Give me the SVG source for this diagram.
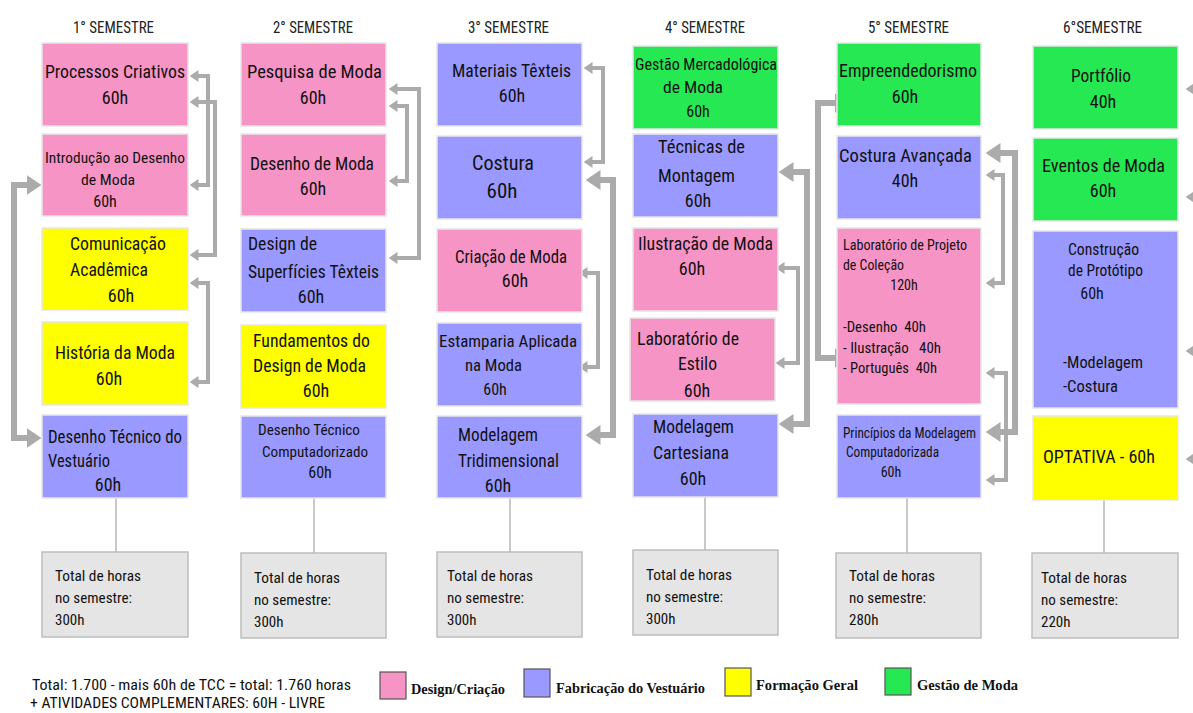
<svg xmlns="http://www.w3.org/2000/svg" width="1193" height="713" viewBox="0 0 1193 713">
<style>
.box{stroke:#e6e6e6;stroke-width:1.5}
.pink{fill:#f794c6}.blue{fill:#9999ff}.yel{fill:#ffff00}.grn{fill:#26e853}
.tot{fill:#e5e5e5;stroke:#bdbdbd;stroke-width:1.5}
text{font-family:"Liberation Sans Narrow","Roboto Condensed","DejaVu Sans Condensed","Liberation Sans",sans-serif;fill:#111}
.l{font-size:18px}.m{font-size:16px}.s{font-size:15px}.xs{font-size:14px}.xl{font-size:21px}
.hd{font-size:16px;fill:#222}
.c{text-anchor:middle}
.lg{font-family:"Liberation Serif","Times New Roman",serif;font-weight:bold;font-size:14px}
.conn{fill:none;stroke:#ababab;stroke-width:4}
.thick{stroke-width:6}
.vl{stroke:#c9c9c9;stroke-width:2}
.sw{stroke:#555;stroke-width:1.2}
</style>
<defs>
<marker id="a" markerUnits="userSpaceOnUse" viewBox="0 0 9 12" markerWidth="9" markerHeight="12" refX="0.5" refY="6" orient="auto-start-reverse"><path d="M0,0 L9,6 L0,12 z" fill="#ababab"/></marker>
<marker id="A" markerUnits="userSpaceOnUse" viewBox="0 0 15 20" markerWidth="15" markerHeight="20" refX="0.5" refY="10" orient="auto-start-reverse"><path d="M0,0 L15,10 L0,20 z" fill="#ababab"/></marker>
</defs>
<rect width="1193" height="713" fill="#ffffff"/>

<g id="headers">
<text class="hd" x="73" y="33" textLength="81" lengthAdjust="spacingAndGlyphs">1° SEMESTRE</text>
<text class="hd" x="273" y="33" textLength="80" lengthAdjust="spacingAndGlyphs">2° SEMESTRE</text>
<text class="hd" x="468" y="33" textLength="81" lengthAdjust="spacingAndGlyphs">3° SEMESTRE</text>
<text class="hd" x="665" y="33" textLength="80" lengthAdjust="spacingAndGlyphs">4° SEMESTRE</text>
<text class="hd" x="868" y="33" textLength="81" lengthAdjust="spacingAndGlyphs">5° SEMESTRE</text>
<text class="hd" x="1063" y="33" textLength="79" lengthAdjust="spacingAndGlyphs">6°SEMESTRE</text>
</g>

<g id="connectors">
<path class="conn" d="M198,76 H208 V185 H198" marker-start="url(#a)" marker-end="url(#a)"/>
<path class="conn" d="M198,102 H215 V255 H198" marker-start="url(#a)" marker-end="url(#a)"/>
<path class="conn" d="M198,283 H208 V382 H198" marker-start="url(#a)" marker-end="url(#a)"/>
<path class="conn thick" d="M27,185 H14 V438 H27" marker-start="url(#A)" marker-end="url(#A)"/>
<path class="conn" d="M397,89 H419 V258 H397" marker-start="url(#a)" marker-end="url(#a)"/>
<path class="conn" d="M397,106 H407 V181 H397" marker-start="url(#a)" marker-end="url(#a)"/>
<path class="conn" d="M592,68 H603 V162 H592" marker-start="url(#a)" marker-end="url(#a)"/>
<path class="conn thick" d="M600,180 H613 V435 H600" marker-start="url(#A)" marker-end="url(#A)"/>
<path class="conn" d="M587,273 H598 V367 H587" marker-start="url(#a)" marker-end="url(#a)"/>
<path class="conn thick" d="M793,172 H807 V424 H793" marker-start="url(#A)" marker-end="url(#A)"/>
<path class="conn" d="M784,268 H798 V363 H784" marker-start="url(#a)" marker-end="url(#a)"/>
<path class="conn thick" d="M835,103 H818 V358 H835" marker-start="url(#A)" marker-end="url(#A)"/>
<path class="conn thick" d="M1000,153 H1015 V432 H1000" marker-start="url(#A)" marker-end="url(#A)"/>
<path class="conn" d="M994,175 H1003 V283 H994" marker-start="url(#a)" marker-end="url(#a)"/>
<path class="conn" d="M994,373 H1006 V480 H994" marker-start="url(#a)" marker-end="url(#a)"/>
<path class="conn" d="M1205,89 H1194" marker-end="url(#a)"/>
<path class="conn" d="M1205,197 H1194" marker-end="url(#a)"/>
<path class="conn" d="M1205,351 H1194" marker-end="url(#a)"/>
<path class="conn" d="M1205,459 H1194" marker-end="url(#a)"/>
<line class="vl" x1="116" y1="498" x2="116" y2="552"/>
<line class="vl" x1="314" y1="498" x2="314" y2="553"/>
<line class="vl" x1="510" y1="498" x2="510" y2="552"/>
<line class="vl" x1="705" y1="497" x2="705" y2="550"/>
<line class="vl" x1="907" y1="498" x2="907" y2="553"/>
<line class="vl" x1="1104" y1="500" x2="1104" y2="553"/>
</g>

<!-- Semester 1 -->
<g id="processos-criativos">
<rect class="box pink" x="42" y="43" width="146" height="83"/>
<text class="l" x="45" y="78" textLength="140" lengthAdjust="spacingAndGlyphs">Processos Criativos</text>
<text class="l c" x="115" y="104">60h</text>
</g>
<g id="introducao-desenho">
<rect class="box pink" x="42" y="134" width="146" height="82"/>
<text class="s" x="45" y="163" textLength="140" lengthAdjust="spacingAndGlyphs">Introdução ao Desenho</text>
<text class="s" x="81" y="185" textLength="54" lengthAdjust="spacingAndGlyphs">de Moda</text>
<text class="m c" x="105" y="207">60h</text>
</g>
<g id="comunicacao-academica">
<rect class="box yel" x="42" y="228" width="146" height="82"/>
<text class="l" x="70" y="250" textLength="96" lengthAdjust="spacingAndGlyphs">Comunicação</text>
<text class="l" x="70" y="276" textLength="78" lengthAdjust="spacingAndGlyphs">Acadêmica</text>
<text class="l c" x="121" y="302">60h</text>
</g>
<g id="historia-moda">
<rect class="box yel" x="42" y="322" width="146" height="83"/>
<text class="l" x="55" y="359" textLength="120" lengthAdjust="spacingAndGlyphs">História da Moda</text>
<text class="l c" x="109" y="385">60h</text>
</g>
<g id="desenho-tecnico-vestuario">
<rect class="box blue" x="42" y="415" width="146" height="83"/>
<text class="l" x="48" y="443" textLength="134" lengthAdjust="spacingAndGlyphs">Desenho Técnico do</text>
<text class="l" x="48" y="467" textLength="62" lengthAdjust="spacingAndGlyphs">Vestuário</text>
<text class="l c" x="108" y="491">60h</text>
</g>

<!-- Semester 2 -->
<g id="pesquisa-moda">
<rect class="box pink" x="241" y="43" width="145" height="83"/>
<text class="l" x="247" y="78" textLength="135" lengthAdjust="spacingAndGlyphs">Pesquisa de Moda</text>
<text class="l c" x="313" y="104">60h</text>
</g>
<g id="desenho-moda">
<rect class="box pink" x="241" y="134" width="145" height="82"/>
<text class="l" x="250" y="170" textLength="124" lengthAdjust="spacingAndGlyphs">Desenho de Moda</text>
<text class="l c" x="313" y="195">60h</text>
</g>
<g id="design-superficies">
<rect class="box blue" x="241" y="229" width="145" height="83"/>
<text class="l" x="248" y="250" textLength="69" lengthAdjust="spacingAndGlyphs">Design de</text>
<text class="l" x="248" y="278" textLength="131" lengthAdjust="spacingAndGlyphs">Superfícies Têxteis</text>
<text class="l c" x="311" y="303">60h</text>
</g>
<g id="fundamentos-design">
<rect class="box yel" x="241" y="325" width="145" height="83"/>
<text class="l" x="253" y="347" textLength="117" lengthAdjust="spacingAndGlyphs">Fundamentos do</text>
<text class="l" x="253" y="372" textLength="113" lengthAdjust="spacingAndGlyphs">Design de Moda</text>
<text class="l c" x="316" y="397">60h</text>
</g>
<g id="desenho-tecnico-comp">
<rect class="box blue" x="241" y="416" width="145" height="82"/>
<text class="s" x="258" y="435" textLength="102" lengthAdjust="spacingAndGlyphs">Desenho Técnico</text>
<text class="s" x="262" y="457" textLength="106" lengthAdjust="spacingAndGlyphs">Computadorizado</text>
<text class="m c" x="320" y="478">60h</text>
</g>

<!-- Semester 3 -->
<g id="materiais-texteis">
<rect class="box blue" x="437" y="43" width="145" height="83"/>
<text class="l" x="452" y="77" textLength="119" lengthAdjust="spacingAndGlyphs">Materiais Têxteis</text>
<text class="l c" x="512" y="102">60h</text>
</g>
<g id="costura">
<rect class="box blue" x="437" y="136" width="145" height="83"/>
<text class="xl" x="472" y="170" textLength="62" lengthAdjust="spacingAndGlyphs">Costura</text>
<text class="xl c" x="502" y="198">60h</text>
</g>
<g id="criacao-moda">
<rect class="box pink" x="437" y="229" width="145" height="83"/>
<text class="l" x="455" y="263" textLength="112" lengthAdjust="spacingAndGlyphs">Criação de Moda</text>
<text class="l c" x="515" y="287">60h</text>
</g>
<g id="estamparia">
<rect class="box blue" x="437" y="323" width="145" height="83"/>
<text class="m" x="439" y="347" textLength="138" lengthAdjust="spacingAndGlyphs">Estamparia Aplicada</text>
<text class="m" x="465" y="371" textLength="57" lengthAdjust="spacingAndGlyphs">na Moda</text>
<text class="m c" x="495" y="395">60h</text>
</g>
<g id="modelagem-tridimensional">
<rect class="box blue" x="437" y="416" width="145" height="82"/>
<text class="l" x="458" y="441" textLength="80" lengthAdjust="spacingAndGlyphs">Modelagem</text>
<text class="l" x="458" y="467" textLength="101" lengthAdjust="spacingAndGlyphs">Tridimensional</text>
<text class="l c" x="498" y="492">60h</text>
</g>

<!-- Semester 4 -->
<g id="gestao-mercadologica">
<rect class="box grn" x="633" y="46" width="145" height="83"/>
<text class="m" x="635" y="70" textLength="142" lengthAdjust="spacingAndGlyphs">Gestão Mercadológica</text>
<text class="m" x="663" y="93" textLength="60" lengthAdjust="spacingAndGlyphs">de Moda</text>
<text class="m c" x="698" y="117">60h</text>
</g>
<g id="tecnicas-montagem">
<rect class="box blue" x="633" y="134" width="145" height="83"/>
<text class="l" x="658" y="153" textLength="87" lengthAdjust="spacingAndGlyphs">Técnicas de</text>
<text class="l" x="658" y="182" textLength="77" lengthAdjust="spacingAndGlyphs">Montagem</text>
<text class="l c" x="698" y="207">60h</text>
</g>
<g id="ilustracao-moda">
<rect class="box pink" x="633" y="228" width="145" height="83"/>
<text class="l" x="638" y="250" textLength="135" lengthAdjust="spacingAndGlyphs">Ilustração de Moda</text>
<text class="l c" x="692" y="275">60h</text>
</g>
<g id="laboratorio-estilo">
<rect class="box pink" x="630" y="318" width="145" height="83"/>
<text class="l" x="637" y="345" textLength="102" lengthAdjust="spacingAndGlyphs">Laboratório de</text>
<text class="l" x="678" y="370" textLength="39" lengthAdjust="spacingAndGlyphs">Estilo</text>
<text class="l c" x="697" y="397">60h</text>
</g>
<g id="modelagem-cartesiana">
<rect class="box blue" x="633" y="414" width="145" height="83"/>
<text class="l" x="653" y="433" textLength="81" lengthAdjust="spacingAndGlyphs">Modelagem</text>
<text class="l" x="653" y="459" textLength="76" lengthAdjust="spacingAndGlyphs">Cartesiana</text>
<text class="l c" x="693" y="485">60h</text>
</g>

<!-- Semester 5 -->
<g id="empreendedorismo">
<rect class="box grn" x="837" y="43" width="144" height="83"/>
<text class="l" x="839" y="77" textLength="138" lengthAdjust="spacingAndGlyphs">Empreendedorismo</text>
<text class="l c" x="905" y="103">60h</text>
</g>
<g id="costura-avancada">
<rect class="box blue" x="837" y="136" width="144" height="83"/>
<text class="l" x="839" y="162" textLength="133" lengthAdjust="spacingAndGlyphs">Costura Avançada</text>
<text class="l c" x="905" y="187">40h</text>
</g>
<g id="laboratorio-projeto">
<rect class="box pink" x="837" y="228" width="144" height="176"/>
<text class="xs" x="843" y="250" textLength="124" lengthAdjust="spacingAndGlyphs">Laboratório de Projeto</text>
<text class="xs" x="843" y="270" textLength="61" lengthAdjust="spacingAndGlyphs">de Coleção</text>
<text class="xs c" x="904" y="290">120h</text>
<text class="xs" x="843" y="332" textLength="83" lengthAdjust="spacingAndGlyphs" xml:space="preserve">-Desenho  40h</text>
<text class="xs" x="843" y="353" textLength="98" lengthAdjust="spacingAndGlyphs" xml:space="preserve">- Ilustração   40h</text>
<text class="xs" x="843" y="373" textLength="94" lengthAdjust="spacingAndGlyphs" xml:space="preserve">- Português  40h</text>
</g>
<g id="principios-modelagem">
<rect class="box blue" x="837" y="415" width="144" height="83"/>
<text class="xs" x="843" y="438" textLength="133" lengthAdjust="spacingAndGlyphs">Princípios da Modelagem</text>
<text class="xs" x="846" y="457" textLength="93" lengthAdjust="spacingAndGlyphs">Computadorizada</text>
<text class="xs c" x="891" y="477">60h</text>
</g>

<!-- Semester 6 -->
<g id="portfolio">
<rect class="box grn" x="1033" y="46" width="145" height="83"/>
<text class="l" x="1071" y="82" textLength="60" lengthAdjust="spacingAndGlyphs">Portfólio</text>
<text class="l c" x="1103" y="108">40h</text>
</g>
<g id="eventos-moda">
<rect class="box grn" x="1033" y="138" width="145" height="83"/>
<text class="l" x="1042" y="172" textLength="123" lengthAdjust="spacingAndGlyphs">Eventos de Moda</text>
<text class="l c" x="1103" y="197">60h</text>
</g>
<g id="construcao-prototipo">
<rect class="box blue" x="1033" y="231" width="145" height="177"/>
<text class="m" x="1068" y="255" textLength="71" lengthAdjust="spacingAndGlyphs">Construção</text>
<text class="m" x="1068" y="276" textLength="75" lengthAdjust="spacingAndGlyphs">de Protótipo</text>
<text class="m c" x="1092" y="299">60h</text>
<text class="m" x="1063" y="368" textLength="80" lengthAdjust="spacingAndGlyphs">-Modelagem</text>
<text class="m" x="1063" y="392" textLength="55" lengthAdjust="spacingAndGlyphs">-Costura</text>
</g>
<g id="optativa">
<rect class="box yel" x="1033" y="416" width="145" height="84"/>
<text class="l" x="1043" y="463" textLength="112" lengthAdjust="spacingAndGlyphs">OPTATIVA - 60h</text>
</g>

<!-- Totals -->
<g id="total-1">
<rect class="tot" x="42" y="552" width="146" height="85"/>
<text class="s" x="55" y="581" textLength="86" lengthAdjust="spacingAndGlyphs">Total de horas</text>
<text class="s" x="55" y="603" textLength="77" lengthAdjust="spacingAndGlyphs">no semestre:</text>
<text class="s" x="55" y="625">300h</text>
</g>
<g id="total-2">
<rect class="tot" x="241" y="553" width="145" height="85"/>
<text class="s" x="254" y="583" textLength="86" lengthAdjust="spacingAndGlyphs">Total de horas</text>
<text class="s" x="254" y="605" textLength="77" lengthAdjust="spacingAndGlyphs">no semestre:</text>
<text class="s" x="254" y="627">300h</text>
</g>
<g id="total-3">
<rect class="tot" x="437" y="552" width="145" height="85"/>
<text class="s" x="447" y="581" textLength="86" lengthAdjust="spacingAndGlyphs">Total de horas</text>
<text class="s" x="447" y="603" textLength="77" lengthAdjust="spacingAndGlyphs">no semestre:</text>
<text class="s" x="447" y="625">300h</text>
</g>
<g id="total-4">
<rect class="tot" x="633" y="550" width="145" height="85"/>
<text class="s" x="646" y="580" textLength="86" lengthAdjust="spacingAndGlyphs">Total de horas</text>
<text class="s" x="646" y="602" textLength="77" lengthAdjust="spacingAndGlyphs">no semestre:</text>
<text class="s" x="646" y="624">300h</text>
</g>
<g id="total-5">
<rect class="tot" x="836" y="553" width="145" height="85"/>
<text class="s" x="849" y="581" textLength="86" lengthAdjust="spacingAndGlyphs">Total de horas</text>
<text class="s" x="849" y="603" textLength="77" lengthAdjust="spacingAndGlyphs">no semestre:</text>
<text class="s" x="849" y="625">280h</text>
</g>
<g id="total-6">
<rect class="tot" x="1032" y="553" width="146" height="85"/>
<text class="s" x="1041" y="583" textLength="86" lengthAdjust="spacingAndGlyphs">Total de horas</text>
<text class="s" x="1041" y="605" textLength="77" lengthAdjust="spacingAndGlyphs">no semestre:</text>
<text class="s" x="1041" y="627">220h</text>
</g>

<!-- Legend -->
<g id="legend">
<text class="s" x="32" y="690" textLength="319" lengthAdjust="spacingAndGlyphs">Total: 1.700 - mais 60h de TCC = total: 1.760 horas</text>
<text class="s" x="30" y="708" textLength="295" lengthAdjust="spacingAndGlyphs">+ ATIVIDADES COMPLEMENTARES: 60H - LIVRE</text>
<rect class="sw pink" x="380" y="672" width="26" height="27"/>
<text class="lg" x="411" y="694" textLength="94" lengthAdjust="spacingAndGlyphs">Design/Criação</text>
<rect class="sw blue" x="524" y="669" width="26" height="28"/>
<text class="lg" x="556" y="693" textLength="149" lengthAdjust="spacingAndGlyphs">Fabricação do Vestuário</text>
<rect class="sw yel" x="725" y="668" width="26" height="28"/>
<text class="lg" x="756" y="690" textLength="102" lengthAdjust="spacingAndGlyphs">Formação Geral</text>
<rect class="sw grn" x="885" y="668" width="26" height="27"/>
<text class="lg" x="917" y="690" textLength="101" lengthAdjust="spacingAndGlyphs">Gestão de Moda</text>
</g>
</svg>
